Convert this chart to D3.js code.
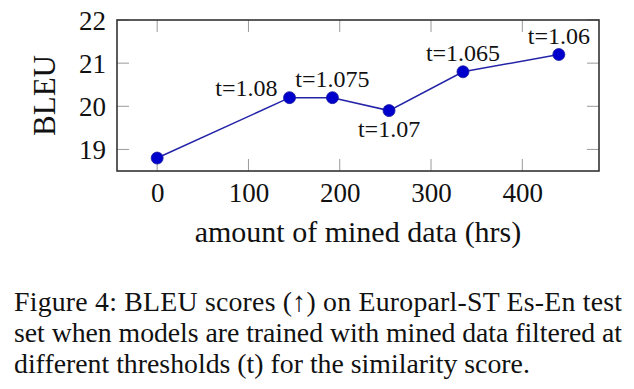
<!DOCTYPE html>
<html>
<head>
<meta charset="utf-8">
<script src="https://cdn.jsdelivr.net/npm/d3@7"></script>
<style>
  body { margin: 0; background: #fff; }
</style>
</head>
<body>
<svg id="chart"></svg>
<script>
  let w = 634;
  let h = 389;
  const serif = 'Liberation Serif, Times New Roman, serif';

// data
const hours = [0, 145, 192, 254, 335, 440];
const bleu = [18.8, 20.2, 20.2, 19.9, 20.8, 21.2];
const thresholds = ['', 't=1.08', 't=1.075', 't=1.07', 't=1.065', 't=1.06'];
const labelPos = ['', 'left', 'above', 'below', 'above', 'above'];
const xTicks = [0, 100, 200, 300, 400];
const yTicks = [19, 20, 21, 22];
const captionLines = [
  'Figure 4:  BLEU scores (\u2191) on Europarl-ST Es-En test',
  'set when models are trained with mined data filtered at',
  'different thresholds (t) for the similarity score.'
];

const box = { left: 117, right: 599, top: 20, bottom: 171 };

const svg = d3.select('#chart')
  .attr('width', w)
  .attr('height', h)
  .attr('font-family', serif)

// Scales (x enlarged 10% on each side like pgfplots)
const xScale = d3.scaleLinear()
  .domain([-44, 484])
  .range([box.left, box.right])

const yScale = d3.scaleLinear()
  .domain([18.5, 22])
  .range([box.bottom, box.top])

// Ticks (inside, on all four sides)
const tickLen = 12;
const ticks = svg.append('g').attr('stroke', '#9a9a9a').attr('stroke-width', 1)
xTicks.forEach(t => {
  ticks.append('line').attr('x1', xScale(t)).attr('x2', xScale(t))
    .attr('y1', box.bottom).attr('y2', box.bottom - tickLen)
  ticks.append('line').attr('x1', xScale(t)).attr('x2', xScale(t))
    .attr('y1', box.top).attr('y2', box.top + tickLen)
})
yTicks.forEach(t => {
  ticks.append('line').attr('y1', yScale(t)).attr('y2', yScale(t))
    .attr('x1', box.left).attr('x2', box.left + tickLen)
  ticks.append('line').attr('y1', yScale(t)).attr('y2', yScale(t))
    .attr('x1', box.right).attr('x2', box.right - tickLen)
})

// Axes (labels only, frame drawn separately)
const xAxis = d3.axisBottom(xScale).tickValues(xTicks).tickSize(0).tickPadding(0)
  .tickFormat(d3.format('d'))
svg.append('g')
  .attr('id', 'x-axis')
  .attr('transform', 'translate(0,' + box.bottom + ')')
  .call(xAxis)
  .attr('font-family', serif).attr('font-size', 27)
  .call(g => g.select('.domain').remove())
  .call(g => g.selectAll('text')
    .attr('dy', null).attr('y', 31).attr('fill', '#111'))

const yAxis = d3.axisLeft(yScale).tickValues(yTicks).tickSize(0).tickPadding(0)
  .tickFormat(d3.format('d'))
svg.append('g')
  .attr('id', 'y-axis')
  .attr('transform', 'translate(' + box.left + ',0)')
  .call(yAxis)
  .attr('font-family', serif).attr('font-size', 27)
  .call(g => g.select('.domain').remove())
  .call(g => g.selectAll('text')
    .attr('dy', null).attr('x', -11).attr('y', 9).attr('fill', '#111'))

// Frame
svg.append('rect')
  .attr('x', box.left).attr('y', box.top)
  .attr('width', box.right - box.left).attr('height', box.bottom - box.top)
  .attr('fill', 'none').attr('stroke', '#333').attr('stroke-width', 1.6)

// Line
const points = hours.map((d, i) => [d, bleu[i]])
const line = d3.line().x(d => xScale(d[0])).y(d => yScale(d[1]))
svg.append('path')
  .datum(points)
  .attr('d', line)
  .attr('fill', 'none')
  .attr('stroke', '#2323a8')
  .attr('stroke-width', 1.5)

svg.selectAll('circle.pt')
  .data(points)
  .enter()
  .append('circle')
  .attr('class', 'pt')
  .attr('cx', d => xScale(d[0]))
  .attr('cy', d => yScale(d[1]))
  .attr('r', 6)
  .attr('fill', '#0000cc')
  .attr('stroke', '#1a1aa0')
  .attr('stroke-width', 0.8)

// Point labels
svg.selectAll('text.lbl')
  .data(points)
  .enter()
  .append('text')
  .attr('class', 'lbl')
  .text((d, i) => thresholds[i])
  .attr('font-size', 24)
  .attr('fill', '#111')
  .attr('text-anchor', (d, i) => labelPos[i] == 'left' ? 'end' : 'middle')
  .attr('x', (d, i) => xScale(d[0]) + (labelPos[i] == 'left' ? -12 : 0))
  .attr('y', (d, i) => {
    let y = yScale(d[1])
    if (labelPos[i] == 'above') return y - 11
    if (labelPos[i] == 'below') return y + 26
    return y - 2
  })

// Axis titles
svg.append('text')
  .attr('x', (box.left + box.right) / 2)
  .attr('y', 242)
  .attr('text-anchor', 'middle')
  .attr('font-size', 30)
  .attr('fill', '#111')
  .text('amount of mined data (hrs)')

svg.append('text')
  .attr('transform', 'translate(55,' + ((box.top + box.bottom) / 2) + ') rotate(-90)')
  .attr('text-anchor', 'middle')
  .attr('font-size', 31)
  .attr('fill', '#111')
  .text('BLEU')

// Caption (first two lines justified)
svg.selectAll('text.cap')
  .data(captionLines)
  .enter()
  .append('text')
  .attr('class', 'cap')
  .attr('x', 14)
  .attr('y', (d, i) => 311 + i * 31)
  .attr('font-size', 27.8)
  .attr('fill', '#111')
  .attr('textLength', (d, i) => i < 2 ? 608 : null)
  .attr('lengthAdjust', 'spacing')
  .text(d => d)
</script>
</body>
</html>
